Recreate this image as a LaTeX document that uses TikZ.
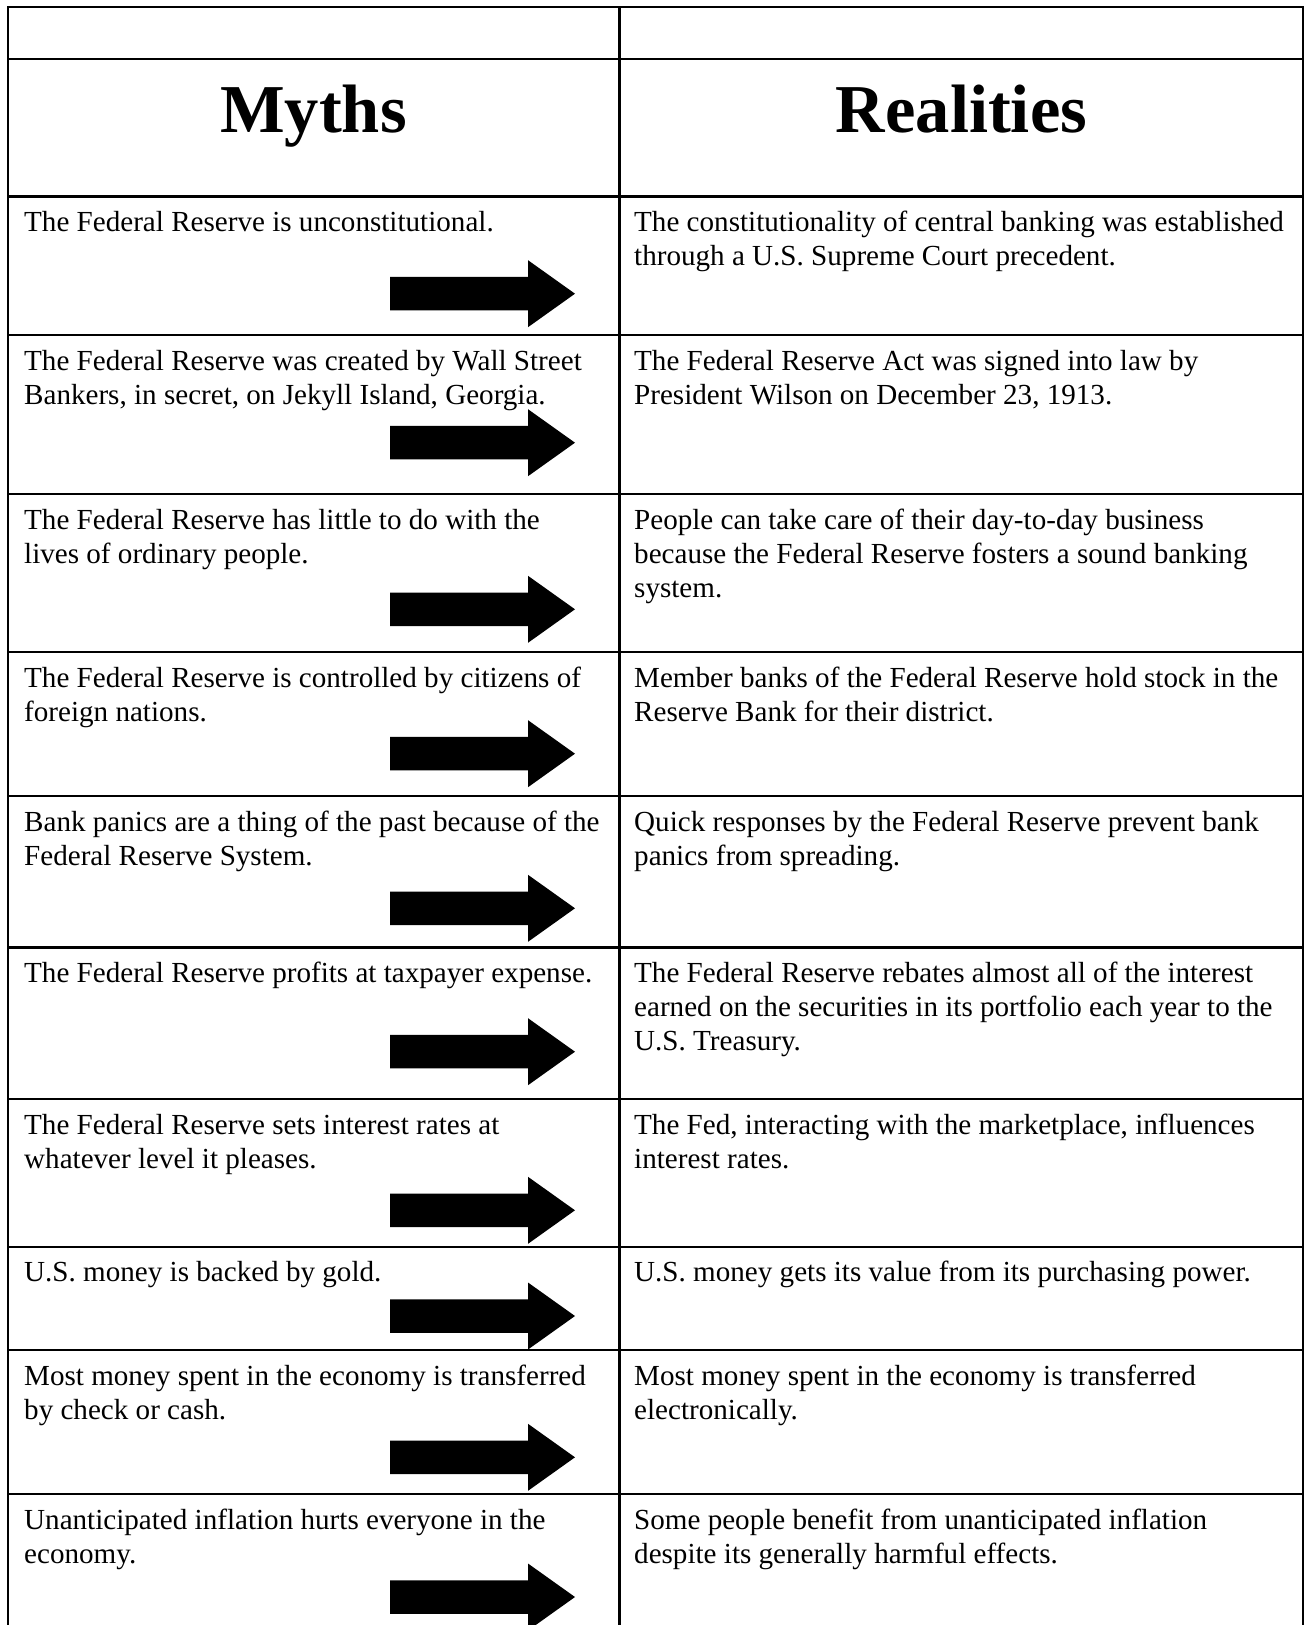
\documentclass[tikz,border=0pt]{standalone}
\usepackage{fontspec}
\setmainfont{Liberation Serif}
\begin{document}
\begin{tikzpicture}[x=1pt,y=-1pt,
  grid/.style={line width=2.2pt, black},
  cell/.style={anchor=base west, inner sep=0pt, align=left, font=\fontsize{29.1}{34.2}\selectfont},
  head/.style={anchor=base, inner sep=0pt, font=\fontsize{68.5}{80}\selectfont\bfseries},
  bigarrow/.pic={\fill[black] (-185,-16.75) -- (-47,-16.75) -- (-47,-33.5) -- (0,0) -- (-47,33.5) -- (-47,16.75) -- (-185,16.75) -- cycle;}
]
\fill[white] (0,0) rectangle (1308,1625);
\useasboundingbox (0,0) rectangle (1308,1625);
\begin{scope}
\clip (0,0) rectangle (1308,1625);
% grid
\draw[grid] (8,1630) -- (8,7) -- (1303,7) -- (1303,1630);
\draw[grid] (619.5,7) -- (619.5,1630);
\foreach \y in {59,196.5,335,494.3,652,796,947.5,1099.3,1246.7,1350,1494.3}
  \draw[grid] (8,\y) -- (1303,\y);
% headers
\node[head] (myths) at (313.5,132) {Myths};
\node[head] (real) at (961.5,132) {Realities};
% (cell nodes are placed at the baseline of their LAST line)
% row 1
\node[cell] (m1) at (24,231.5) {The Federal Reserve is unconstitutional.};
\node[cell] (r1) at (634,265.7) {The constitutionality of central banking was established\\through a U.S. Supreme Court precedent.};
\pic at (575,293.7) {bigarrow};
% row 2
\node[cell] (m2) at (24,404.2) {The Federal Reserve was created by Wall Street\\Bankers, in secret, on Jekyll Island, Georgia.};
\node[cell] (r2) at (634,404.2) {The Federal Reserve Act was signed into law by\\President Wilson on December 23, 1913.};
\pic at (575,442.7) {bigarrow};
% row 3
\node[cell] (m3) at (24,563.5) {The Federal Reserve has little to do with the\\lives of ordinary people.};
\node[cell] (r3) at (634,597.7) {People can take care of their day-to-day business\\because the Federal Reserve fosters a sound banking\\system.};
\pic at (575,609.3) {bigarrow};
% row 4
\node[cell] (m4) at (24,721.2) {The Federal Reserve is controlled by citizens of\\foreign nations.};
\node[cell] (r4) at (634,721.2) {Member banks of the Federal Reserve hold stock in the\\Reserve Bank for their district.};
\pic at (575,753.7) {bigarrow};
% row 5
\node[cell] (m5) at (24,865.2) {Bank panics are a thing of the past because of the\\Federal Reserve System.};
\node[cell] (r5) at (634,865.2) {Quick responses by the Federal Reserve prevent bank\\panics from spreading.};
\pic at (575,908.3) {bigarrow};
% row 6
\node[cell] (m6) at (24,982.5) {The Federal Reserve profits at taxpayer expense.};
\node[cell] (r6) at (634,1050.9) {The Federal Reserve rebates almost all of the interest\\earned on the securities in its portfolio each year to the\\U.S. Treasury.};
\pic at (575,1051.7) {bigarrow};
% row 7
\node[cell] (m7) at (24,1168.5) {The Federal Reserve sets interest rates at\\whatever level it pleases.};
\node[cell] (r7) at (634,1168.5) {The Fed, interacting with the marketplace, influences\\interest rates.};
\pic at (575,1210.3) {bigarrow};
% row 8
\node[cell] (m8) at (24,1281) {U.S. money is backed by gold.};
\node[cell] (r8) at (634,1281) {U.S. money gets its value from its purchasing power.};
\pic at (575,1316) {bigarrow};
% row 9
\node[cell] (m9) at (24,1419.2) {Most money spent in the economy is transferred\\by check or cash.};
\node[cell] (r9) at (634,1419.2) {Most money spent in the economy is transferred\\electronically.};
\pic at (575,1457.3) {bigarrow};
% row 10
\node[cell] (m10) at (24,1563.5) {Unanticipated inflation hurts everyone in the\\economy.};
\node[cell] (r10) at (634,1563.5) {Some people benefit from unanticipated inflation\\despite its generally harmful effects.};
\pic at (575,1597) {bigarrow};
\end{scope}
\end{tikzpicture}
\end{document}
